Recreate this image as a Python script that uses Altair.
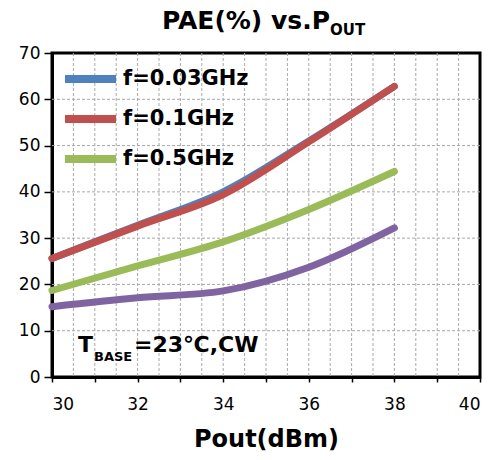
import altair as alt
import pandas as pd

pout = [30, 32, 34, 36, 38]
series_names = ["f=0.03GHz", "f=0.1GHz", "f=0.5GHz", "f=1GHz"]
pae_003 = [25.6, 32.8, 40.0, 51.0, 62.8]
pae_01 = [25.6, 32.6, 39.4, 50.8, 62.8]
pae_05 = [18.7, 24.0, 29.2, 36.2, 44.4]
pae_1 = [15.2, 17.1, 18.6, 23.7, 32.2]
colors = ["#4F81BD", "#C0504D", "#9BBB59", "#8064A2"]

x_grid = [30 + 0.5 * i for i in range(1, 20)]
y_grid = list(range(10, 70, 10))

rows = []
for name, vals in zip(series_names, [pae_003, pae_01, pae_05, pae_1]):
    for x, v in zip(pout, vals):
        rows.append({"Pout": x, "PAE": v, "series": name})
df = pd.DataFrame(rows)
one = pd.DataFrame({"k": [0]})

FONT = "DejaVu Sans"
xticks = [30 + 0.5 * i for i in range(21)]
xscale = alt.Scale(domain=[30, 40], nice=False)
yscale = alt.Scale(domain=[0, 70], nice=False)

vgrid = alt.Chart(pd.DataFrame({"g": x_grid})).mark_rule(
    color="#a8a8a8", strokeWidth=1, strokeDash=[3, 2]).encode(
    x=alt.X("g:Q", scale=xscale))
hgrid = alt.Chart(pd.DataFrame({"g": y_grid})).mark_rule(
    color="#a8a8a8", strokeWidth=1, strokeDash=[3, 2]).encode(
    y=alt.Y("g:Q", scale=yscale))

lines = alt.Chart(df).mark_line(strokeWidth=7, interpolate="monotone", strokeCap="round").encode(
    x=alt.X("Pout:Q", scale=xscale,
            axis=alt.Axis(title="Pout(dBm)", values=xticks, format="d",
                          labelExpr="datum.value % 2 == 0 ? datum.label : ''",
                          tickSize=5, grid=False,
                          labelFontSize=17, titleFontSize=24, titleFontWeight="bold", labelPadding=14,
                          titlePadding=15)),
    y=alt.Y("PAE:Q", scale=yscale,
            axis=alt.Axis(title=None, values=list(range(0, 71, 10)), tickSize=8, grid=False,
                          labelFontSize=17, labelPadding=4)),
    color=alt.Color("series:N", scale=alt.Scale(domain=series_names, range=colors),
                    legend=alt.Legend(title=None, values=series_names[:3], orient="none", legendX=9, legendY=12,
                                      symbolType="stroke", symbolStrokeWidth=8, symbolSize=2600,
                                      labelFontSize=21, labelFontWeight="bold", labelFont=FONT,
                                      clipHeight=28, rowPadding=12, labelOffset=3, labelColor="black")),
    order=alt.Order("Pout:Q"),
)

def txt(text, size, x, y, align="left"):
    return alt.Chart(one).mark_text(text=text, fontSize=size, fontWeight="bold", font=FONT,
                                    align=align, baseline="alphabetic", color="black").encode(
        x=alt.value(x), y=alt.value(y))

title_main = txt("PAE(%) vs.P", 25, 278, -24, "right")
title_sub = txt("OUT", 15, 278, -18)
ann_T = txt("T", 22, 26, 299)
ann_sub = txt("BASE", 13, 42, 308)
ann_rest = txt("=23℃,CW", 22, 82, 299)

chart = alt.layer(vgrid, hgrid, lines, title_main, title_sub, ann_T, ann_sub, ann_rest).properties(
    width=428, height=324,
    autosize=alt.AutoSizeParams(type="none"),
    padding={"left": 52, "top": 53, "right": 9, "bottom": 83},
).configure_view(stroke="black", strokeWidth=3).configure_axis(
    domainColor="black", domainWidth=3, tickColor="black", tickWidth=1.5,
    labelColor="black", titleColor="black", labelFont=FONT, titleFont=FONT,
).configure_text(font=FONT)

chart.save("out.html", embed_options={"renderer": "svg", "actions": False})
